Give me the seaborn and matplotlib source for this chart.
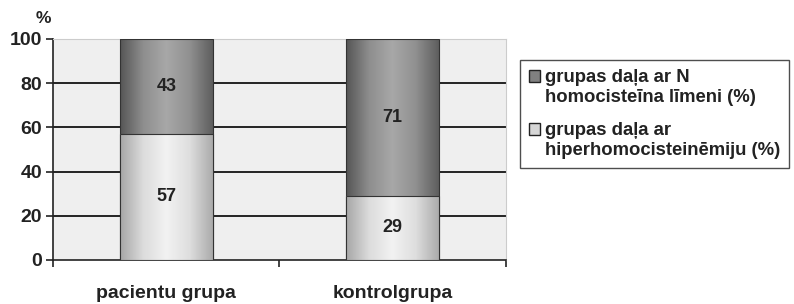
import numpy as np
import pandas as pd
import matplotlib
matplotlib.use("Agg")
import matplotlib.pyplot as plt
from matplotlib.colors import LinearSegmentedColormap
from matplotlib.patches import Patch, Rectangle
from matplotlib.legend_handler import HandlerPatch
import seaborn as sns

# data
groups = ["pacientu grupa", "kontrolgrupa"]
normal_pct = [43, 71]          # grupas daļa ar N homocisteīna līmeni
hyper_pct = [57, 29]           # grupas daļa ar hiperhomocisteinēmiju
series_labels = ["grupas daļa ar N\nhomocisteīna līmeni (%)",
                 "grupas daļa ar\nhiperhomocisteinēmiju (%)"]
y_ticks = [0, 20, 40, 60, 80, 100]

df = pd.DataFrame({"group": groups, "normal": normal_pct, "hyper": hyper_pct})
df["total"] = df["normal"] + df["hyper"]

sns.set_style("white")
plt.rcParams["font.family"] = ["Liberation Sans", "DejaVu Sans"]

fig = plt.figure(figsize=(7.94, 3.04), dpi=100)
ax = fig.add_axes([0.067, 0.145, 0.57, 0.727])
ax.set_facecolor("#efefef")

dark_color = "#808080"
light_color = "#d6d6d6"
txt = "#222222"

# stacked bars: total in dark, hyper (bottom part) in light on top of it
sns.barplot(data=df, x="group", y="total", color=dark_color, width=0.41,
            ax=ax, edgecolor="#333333", linewidth=0.8, zorder=3)
n_dark = len(ax.patches)
sns.barplot(data=df, x="group", y="hyper", color=light_color, width=0.41,
            ax=ax, edgecolor="#333333", linewidth=0.8, zorder=4)

# cylinder-like shading
dark_cmap = LinearSegmentedColormap.from_list(
    "d", ["#555555", "#8e8e8e", "#a8a8a8", "#909090", "#5e5e5e"])
light_cmap = LinearSegmentedColormap.from_list(
    "l", ["#a6a6a6", "#dcdcdc", "#f2f2f2", "#dedede", "#ababab"])
grad = np.linspace(0, 1, 256).reshape(1, -1)
for i, p in enumerate(ax.patches):
    x0, y0 = p.get_x(), p.get_y()
    w, h = p.get_width(), p.get_height()
    cmap = dark_cmap if i < n_dark else light_cmap
    z = 3.5 if i < n_dark else 4.5
    im = ax.imshow(grad, cmap=cmap, aspect="auto",
                   extent=(x0, x0 + w, y0, y0 + h), zorder=z)
    im.set_clip_path(p)
    p.set_facecolor("none")
    p.set_zorder(z + 0.1)

ax.set_xlim(-0.5, 1.5)
ax.set_ylim(0, 100)

# value labels
for i in range(len(groups)):
    ax.text(i, hyper_pct[i] / 2, str(hyper_pct[i]), ha="center", va="center",
            fontsize=13, fontweight="bold", color=txt, zorder=6)
    ax.text(i, hyper_pct[i] + normal_pct[i] / 2, str(normal_pct[i]),
            ha="center", va="center", fontsize=13, fontweight="bold",
            color=txt, zorder=6)

# grid
for yv in y_ticks[1:-1]:
    ax.axhline(yv, color="black", linewidth=1.2, zorder=1)

ax.set_yticks(y_ticks)
ax.set_yticklabels([str(v) for v in y_ticks], fontsize=14, fontweight="bold",
                   color=txt)
ax.set_xticks([-0.5, 0.5, 1.5])
ax.set_xticklabels([])
ax.tick_params(axis="both", length=5, width=1.2, color=txt, pad=3,
               direction="out", left=True, bottom=True)
for j, g in enumerate(groups):
    ax.text(j, -11.2, g, ha="center", va="top", fontsize=14,
            fontweight="bold", color=txt, clip_on=False)
ax.set_xlabel("")
ax.set_ylabel("")
ax.text(-0.022, 1.06, "%", transform=ax.transAxes, fontsize=12.5,
        fontweight="bold", color=txt, ha="center", va="bottom")

for side in ["left", "bottom"]:
    ax.spines[side].set_color(txt)
    ax.spines[side].set_linewidth(1.2)
for side in ["top", "right"]:
    ax.spines[side].set_color("#cccccc")
    ax.spines[side].set_linewidth(0.8)


def top_square(legend, orig_handle, xdescent, ydescent, width, height, fontsize):
    # put the legend key next to the first line of a two-line label
    return Rectangle((-xdescent, -ydescent + 0.62 * fontsize), width, height)


handles = [Patch(facecolor=dark_color, edgecolor=txt),
           Patch(facecolor=light_color, edgecolor=txt)]
leg = fig.legend(handles, series_labels, loc="upper left",
                 bbox_to_anchor=(0.655, 0.803), frameon=True, fancybox=False,
                 prop={"size": 13.3, "weight": "bold"}, handlelength=0.6,
                 handleheight=0.6, handletextpad=0.25, borderpad=0.5,
                 labelspacing=0.9, borderaxespad=0,
                 handler_map={Patch: HandlerPatch(patch_func=top_square)})
leg.get_frame().set_edgecolor(txt)
leg.get_frame().set_linewidth(1.0)
for t in leg.get_texts():
    t.set_color(txt)
    t.set_linespacing(1.2)

fig.savefig("out.png", dpi=100)
